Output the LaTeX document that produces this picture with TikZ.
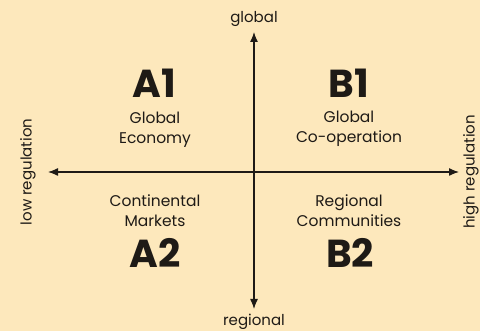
\documentclass[tikz,border=0pt]{standalone}
\usepackage{fontspec}
\setmainfont{Poppins}
\usetikzlibrary{arrows.meta}
\definecolor{bgc}{RGB}{253,232,188}
\definecolor{ink}{RGB}{30,26,22}
\begin{document}
\begin{tikzpicture}[x=1pt,y=-1pt,
  axis/.style={draw=ink,line width=1.3pt,-{Latex[length=10pt,width=8pt]}},
  big/.style={font=\fontsize{39}{39}\selectfont\bfseries,text=ink,inner sep=0pt,text height=27pt,text depth=0pt},
  lab/.style={font=\fontsize{15.5}{20}\selectfont,text=ink,align=center,inner sep=0pt},
  ax/.style={font=\fontsize{15}{17}\selectfont,text=ink,inner sep=0pt}]
\fill[bgc] (0,0) rectangle (480,331);
\useasboundingbox (0,0) rectangle (480,331);
\coordinate (c) at (254,172);
\coordinate (top) at (254,32);
\coordinate (bot) at (254,309);
\coordinate (lft) at (48,172);
\coordinate (rgt) at (459,172);
\draw[axis] (c) -- (top);
\draw[axis] (c) -- (bot);
\draw[axis] (c) -- (lft);
\draw[axis] (c) -- (rgt);
\node[ax] (glob) at (254,19) {global};
\node[ax] (reg) at (254,322) {regional};
\node[ax,rotate=90] (low) at (28,172) {low regulation};
\node[ax,rotate=90] (high) at (471,172) {high regulation};
\node[big] (a1) at (154,84) {A1};
\node[lab] (a1t) at (155,130) {Global\\Economy};
\node[big] (b1) at (349,84) {B1};
\node[lab] (b1t) at (349,129) {Global\\Co-operation};
\node[lab] (a2t) at (155,211) {Continental\\Markets};
\node[big] (a2) at (155,254) {A2};
\node[lab] (b2t) at (349,211) {Regional\\Communities};
\node[big] (b2) at (350,254) {B2};
\end{tikzpicture}
\end{document}
